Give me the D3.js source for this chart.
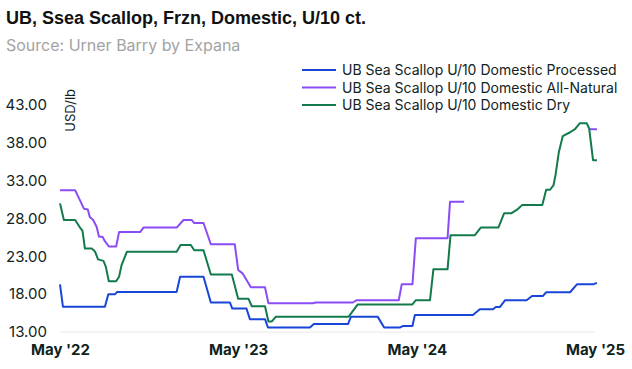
<!DOCTYPE html>
<html><head><meta charset="utf-8">
<script src="https://cdn.jsdelivr.net/npm/d3@7"></script>
<style>body{margin:0;background:#fff;} svg{display:block}</style>
</head><body><svg id="c" width="632" height="369"></svg>
<script>
const title = "UB, Ssea Scallop, Frzn, Domestic, U/10 ct.";
const subtitle = "Source: Urner Barry by Expana";
const yLabel = "USD/lb";
const yTicks = [13, 18, 23, 28, 33, 38, 43];
const xTickDates = ["2022-05-01", "2023-05-01", "2024-05-01", "2025-05-01"];
const xTickLabels = ["May '22", "May '23", "May '24", "May '25"];
const seriesNames = ["UB Sea Scallop U/10 Domestic Processed", "UB Sea Scallop U/10 Domestic All-Natural", "UB Sea Scallop U/10 Domestic Dry"];
const seriesColors = ["#1846d8", "#8a4cf5", "#137a4b"];

const processedDates = ["2022-05-01","2022-05-07","2022-08-01","2022-08-08","2022-08-22","2022-08-26","2022-12-26","2023-01-02","2023-02-19","2023-03-06","2023-04-14","2023-04-19","2023-05-18","2023-05-25","2023-06-25","2023-07-01","2023-09-25","2023-10-03","2023-12-12","2023-12-18","2024-02-11","2024-02-24","2024-03-28","2024-04-03","2024-04-22","2024-04-27","2024-08-24","2024-09-07","2024-10-04","2024-10-10","2024-10-18","2024-10-29","2024-12-12","2024-12-23","2025-01-14","2025-01-21","2025-03-11","2025-03-25","2025-04-27","2025-05-05"];
const processedValues = [19.3,16.35,16.35,18.0,18.0,18.3,18.3,20.3,20.3,16.9,16.9,16.1,16.1,14.7,14.7,13.6,13.6,14.05,14.05,15.0,15.0,13.6,13.6,13.8,13.8,15.25,15.25,16.0,16.0,16.3,16.3,17.2,17.2,17.75,17.75,18.25,18.25,19.3,19.3,19.5];

const naturalDates = ["2022-05-01","2022-06-01","2022-06-11","2022-06-19","2022-06-27","2022-07-01","2022-07-08","2022-07-15","2022-07-20","2022-07-27","2022-08-01","2022-08-09","2022-08-24","2022-08-30","2022-10-12","2022-10-19","2022-12-26","2023-01-09","2023-01-26","2023-01-31","2023-02-19","2023-03-06","2023-04-24","2023-05-01","2023-05-10","2023-05-27","2023-06-25","2023-07-02","2023-10-01","2023-10-07","2023-12-22","2023-12-30","2024-03-25","2024-03-31","2024-04-22","2024-04-29","2024-07-03","2024-07-08","2024-08-06","2024-08-13","2025-04-19","2025-05-05"];
const naturalValues = [31.75,31.75,30.4,29.3,29.2,28.2,27.8,26.9,25.6,25.6,25.0,24.3,24.3,26.2,26.2,26.8,26.8,27.8,27.8,27.4,27.4,24.6,24.6,21.2,20.75,18.9,18.9,16.8,16.8,16.9,16.9,17.2,17.2,19.3,19.3,25.4,25.4,30.2,30.2,null,39.8,39.8];

const dryDates = ["2022-05-01","2022-05-09","2022-06-01","2022-06-11","2022-06-16","2022-06-21","2022-07-05","2022-07-12","2022-07-18","2022-07-29","2022-08-03","2022-08-09","2022-08-24","2022-08-30","2022-09-04","2022-09-15","2022-12-26","2023-01-03","2023-01-24","2023-01-31","2023-02-19","2023-03-06","2023-04-18","2023-05-01","2023-05-22","2023-05-29","2023-06-25","2023-07-02","2023-07-09","2023-07-17","2023-12-13","2024-01-01","2024-04-22","2024-04-29","2024-05-28","2024-06-04","2024-07-03","2024-07-09","2024-08-28","2024-09-09","2024-10-15","2024-10-27","2024-11-11","2024-11-24","2024-12-03","2025-01-13","2025-01-21","2025-01-29","2025-02-05","2025-02-09","2025-02-16","2025-02-24","2025-03-11","2025-03-21","2025-03-31","2025-04-14","2025-04-19","2025-04-27","2025-05-05"];
const dryValues = [30.0,27.8,27.8,26.8,26.4,24.05,24.05,23.6,22.6,22.4,21.6,19.7,19.7,20.3,21.8,23.6,23.6,24.5,24.5,23.8,23.8,20.6,20.6,17.4,17.4,16.4,16.4,14.4,14.4,15.0,15.0,16.65,16.65,17.2,17.2,21.3,21.3,25.8,25.8,26.8,26.8,28.7,28.7,29.25,29.8,29.8,31.8,31.8,32.4,33.7,36.8,38.9,39.4,39.8,40.6,40.6,39.9,35.7,35.7];

const parse = d3.timeParse("%Y-%m-%d");
const seriesData = [
  processedDates.map((d, i) => ({date: parse(d), value: processedValues[i]})),
  naturalDates.map((d, i) => ({date: parse(d), value: naturalValues[i]})),
  dryDates.map((d, i) => ({date: parse(d), value: dryValues[i]}))
];

const svg = d3.select("#c");
const textColor = "#10231c";
const x = d3.scaleTime().domain([parse("2022-05-01"), parse("2025-05-01")]).range([60, 595]);
const y = d3.scaleLinear().domain([13, 43]).range([332, 105]);

// title
svg.append("text").attr("x", 6).attr("y", 24).text(title)
  .attr("font-family", "Liberation Sans, Arial, sans-serif").attr("font-weight", 700)
  .attr("font-size", 18).attr("fill", "#111");
svg.append("text").attr("x", 6).attr("y", 51).text(subtitle)
  .attr("font-family", "Inter, sans-serif").attr("font-size", 16).attr("fill", "#a3a3a3");

// baseline
svg.append("line").attr("x1", x.range()[0]).attr("x2", x.range()[1])
  .attr("y1", y(13)).attr("y2", y(13)).attr("stroke", "#e8e8e8").attr("stroke-width", 1);

// y axis
const yAxis = d3.axisLeft(y).tickValues(yTicks).tickFormat(d3.format(".2f")).tickSize(0).tickPadding(0);
const gy = svg.append("g").attr("transform", "translate(47,0)").call(yAxis);
gy.select(".domain").remove();
gy.selectAll("text").attr("font-family", "Inter, sans-serif").attr("font-size", 15).attr("fill", textColor);

// x axis
const xAxis = d3.axisBottom(x).tickValues(xTickDates.map(parse)).tickFormat((d, i) => xTickLabels[i]).tickSize(0).tickPadding(0);
const gx = svg.append("g").attr("transform", "translate(0,344)").call(xAxis);
gx.select(".domain").remove();
gx.selectAll("text").attr("font-family", "Inter, sans-serif").attr("font-weight", 700).attr("font-size", 15).attr("fill", textColor);

// y label
svg.append("text").attr("transform", "translate(75,89) rotate(-90)").attr("text-anchor", "end")
  .text(yLabel).attr("font-family", "Inter, sans-serif").attr("font-size", 13).attr("fill", textColor);

// lines
const line = d3.line().defined(d => d.value != null).x(d => x(d.date)).y(d => y(d.value));
seriesData.forEach((data, i) => {
  svg.append("path").datum(data).attr("d", line).attr("fill", "none")
    .attr("stroke", seriesColors[i]).attr("stroke-width", 2).attr("stroke-linejoin", "round");
});

// legend
seriesNames.forEach((name, i) => {
  const ly = 70 + i * 17.5;
  svg.append("line").attr("x1", 302).attr("x2", 336).attr("y1", ly).attr("y2", ly)
    .attr("stroke", seriesColors[i]).attr("stroke-width", 2);
  svg.append("text").attr("x", 342).attr("y", ly + 5).text(name)
    .attr("font-family", "Inter, sans-serif").attr("font-size", 14).attr("fill", textColor);
});
</script>
</body></html>
